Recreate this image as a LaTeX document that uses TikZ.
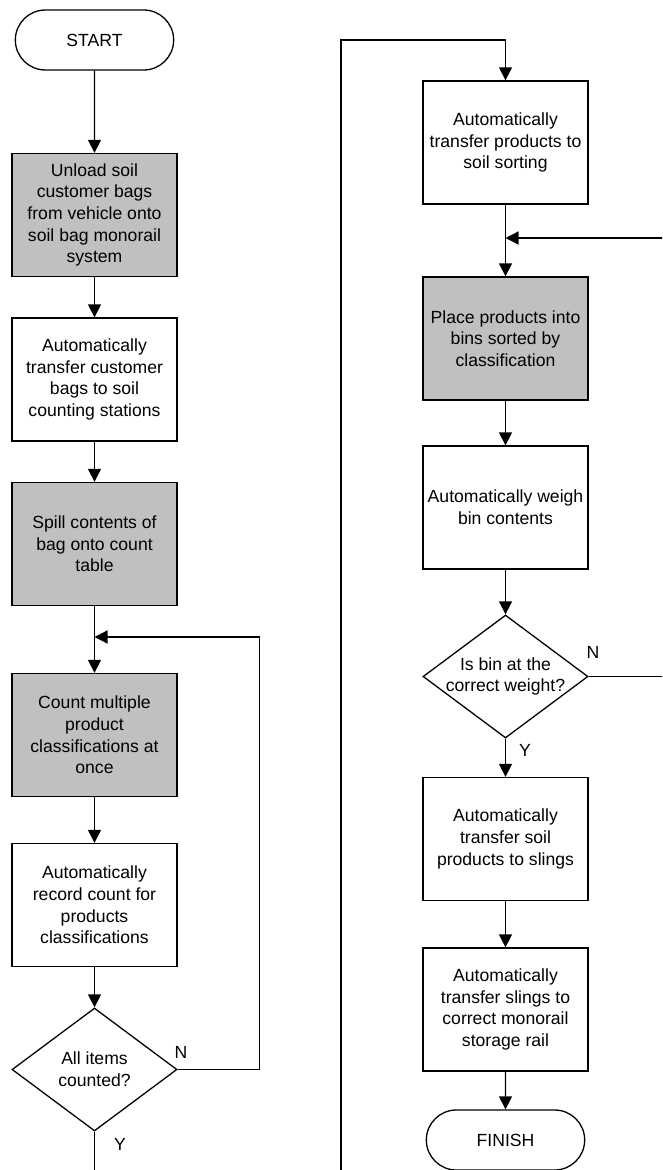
\documentclass[tikz,border=0pt]{standalone}
\usepackage{fontspec}
\setmainfont{Liberation Sans}
\usetikzlibrary{arrows.meta,shapes.geometric,shapes.misc}
\definecolor{boxgray}{RGB}{192,192,192}
\tikzset{
  procbox/.style={draw,rectangle,minimum width=165pt,minimum height=123pt,align=center,inner sep=2pt},
  graybox/.style={procbox,fill=boxgray},
  termnode/.style={draw,rounded rectangle,minimum width=165pt,minimum height=60pt},
  decide/.style={draw,diamond,minimum width=165pt,minimum height=123pt,align=center,inner sep=-4pt,shape aspect=1.34},
  flow/.style={-{Triangle[length=13pt,width=13pt]}},
  yn/.style={inner sep=0pt}
}

\begin{document}
\begin{tikzpicture}[x=1pt,y=-1pt,line width=1.3pt,font=\fontsize{17.6}{21.7}\selectfont]
\useasboundingbox (0,0) rectangle (662,1170);
\clip (0,0) rectangle (662,1170);
% left column
\node[termnode] (start) at (94.5,40) {START};
\node[graybox] (unload) at (94.5,215) {Unload soil\\customer bags\\from vehicle onto\\soil bag monorail\\system};
\node[procbox] (xferbags) at (94.5,379.5) {Automatically\\transfer customer\\bags to soil\\counting stations};
\node[graybox] (spill) at (94.5,544) {Spill contents of\\bag onto count\\table};
\node[graybox] (countm) at (94.5,735) {Count multiple\\product\\classifications at\\once};
\node[procbox] (record) at (94.5,905) {Automatically\\record count for\\products\\classifications};
\node[decide] (alldone) at (94.5,1069.5) {All items\\counted?};
\node[yn] (nA) at (181,1052) {N};
\node[yn] (yA) at (120,1144) {Y};
\coordinate (loopA) at (94.5,637);
% right column
\node[procbox] (xfersort) at (505.5,142.5) {Automatically\\transfer products to\\soil sorting};
\node[graybox] (place) at (505.5,338.5) {Place products into\\bins sorted by\\classification};
\node[procbox] (weigh) at (505.5,507.5) {Automatically weigh\\bin contents};
\node[decide] (chkw) at (505.5,676.5) {Is bin at the\\correct weight?};
\node[yn] (nB) at (593,652) {N};
\node[yn] (yB) at (525,750) {Y};
\node[procbox] (slings) at (505.5,839) {Automatically\\transfer soil\\products to slings};
\node[procbox] (storage) at (505.5,1009.5) {Automatically\\transfer slings to\\correct monorail\\storage rail};
\node[termnode] (finish) at (505.5,1140) {FINISH};
\coordinate (loopB) at (505.5,238);
\coordinate (railtop) at (341,40);
% connectors
\draw[flow] (start) -- (unload);
\draw[flow] (unload) -- (xferbags);
\draw[flow] (xferbags) -- (spill);
\draw[flow] (spill) -- (countm);
\draw[flow] (countm) -- (record);
\draw[flow] (record) -- (alldone);
\draw[flow] (alldone.east) -- ++(82,0) |- (loopA);
\draw[flow] (alldone.south) -- ++(0,40) -| (railtop) -| (xfersort.north);
\draw[flow] (xfersort) -- (place);
\draw[flow] (place) -- (weigh);
\draw[flow] (weigh) -- (chkw);
\draw[flow] (chkw.east) -- ++(95,0) |- (loopB);
\draw[flow] (chkw) -- (slings);
\draw[flow] (slings) -- (storage);
\draw[flow] (storage) -- (finish);
\end{tikzpicture}
\end{document}
